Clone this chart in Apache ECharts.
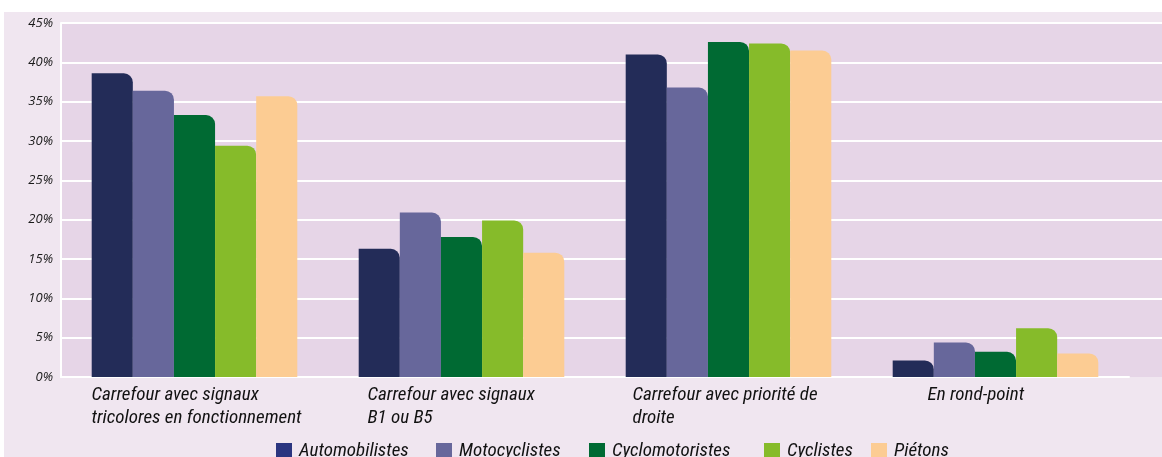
<!DOCTYPE html>
<html>
<head>
<meta charset="utf-8">
<script src="https://cdn.jsdelivr.net/npm/echarts@6/dist/echarts.min.js"></script>
<style>
html,body{margin:0;padding:0;background:#ffffff;}
#wrap{position:absolute;left:4px;top:12px;width:1158px;height:445px;background:#f0e6f0;}
#chart{position:absolute;left:0;top:0;width:1162px;height:457px;}
</style>
</head>
<body>
<div id="wrap"></div>
<div id="chart"></div>
<script>
const categories = [
  'Carrefour avec signaux\ntricolores en fonctionnement',
  'Carrefour avec signaux\nB1 ou B5',
  'Carrefour avec priorité de\ndroite',
  'En rond-point'
];
const seriesNames = ['Automobilistes', 'Motocyclistes', 'Cyclomotoristes', 'Cyclistes', 'Piétons'];
const automobilistes = [38.6, 16.3, 41.0, 2.1];
const motocyclistes = [36.4, 20.9, 36.8, 4.4];
const cyclomotoristes = [33.3, 17.8, 42.6, 3.2];
const cyclistes = [29.4, 19.9, 42.4, 6.2];
const pietons = [35.7, 15.8, 41.5, 3.0];
const yTicks = [0, 5, 10, 15, 20, 25, 30, 35, 40, 45];

const seriesValues = [automobilistes, motocyclistes, cyclomotoristes, cyclistes, pietons];
const colors = ['#232c58', '#67679b', '#006a33', '#86bb2a', '#fccc93'];
const legendIconColors = ['#2b3580', '#67679b', '#006a33', '#86bb2a', '#fccc93'];
const labelOffsets = [0, 9, 7, 35];
const legendLefts = [276, 436, 589, 764, 871];
const W = 240;
const condensed = '"Roboto Condensed", "Open Sans", sans-serif';

const rich = {};
labelOffsets.forEach((off, i) => {
  rich['c' + i] = {
    width: W, align: 'left',
    padding: [0, 0, 0, W - 206 + 2 * off],
    fontFamily: condensed,
    fontStyle: 'italic', fontSize: 19, lineHeight: 23, color: '#111111'
  };
});

const chart = echarts.init(document.getElementById('chart'), null, {renderer: 'canvas'});
chart.setOption({
  animation: false,
  backgroundColor: 'transparent',
  color: colors,
  grid: [
    {left: 61, right: 0, top: 23, bottom: 80, show: true, backgroundColor: '#e6d5e7', borderWidth: 0, outerBoundsMode: 'none', containLabel: false},
    {left: 61, right: 33, top: 23, bottom: 80, outerBoundsMode: 'none', containLabel: false}
  ],
  xAxis: [
    {type: 'category', gridIndex: 0, data: [], show: false},
    {
      type: 'category', gridIndex: 1, data: categories,
      axisLine: {show: true, lineStyle: {color: '#ffffff', width: 2}},
      axisTick: {show: false},
      axisLabel: {
        interval: 0,
        margin: 7,
        formatter: (v, i) => v.split('\n').map(l => '{c' + i + '|' + l + '}').join('\n'),
        rich: rich
      }
    }
  ],
  yAxis: [
    {
      type: 'value', gridIndex: 0, min: yTicks[0], max: yTicks[yTicks.length - 1], interval: 5,
      axisLine: {show: true, lineStyle: {color: '#ffffff', width: 2}},
      axisTick: {show: false},
      axisLabel: {
        formatter: '{value}%', margin: 8,
        fontFamily: '"Open Sans", sans-serif', fontStyle: 'italic', fontSize: 13, color: '#1a1a1a'
      },
      splitLine: {show: true, lineStyle: {color: ['rgba(0,0,0,0)', '#ffffff', '#ffffff', '#ffffff', '#ffffff', '#ffffff', '#ffffff', '#ffffff', '#ffffff', '#ffffff'], width: 2}}
    },
    {
      type: 'value', gridIndex: 1, min: yTicks[0], max: yTicks[yTicks.length - 1], interval: 5,
      show: false, splitLine: {show: false}
    }
  ],
  legend: seriesNames.map((name, i) => ({
    left: legendLefts[i], top: 441, padding: 0,
    itemWidth: 16, itemHeight: 16, itemGap: 0,
    icon: 'rect',
    data: [{name: name, itemStyle: {color: legendIconColors[i]}}],
    textStyle: {fontFamily: condensed, fontStyle: 'italic', fontSize: 19, lineHeight: 20, color: '#111111', padding: [0, 0, 0, 2]}
  })),
  series: seriesNames.map((name, i) => ({
    name: name,
    type: 'bar',
    xAxisIndex: 1,
    yAxisIndex: 1,
    data: seriesValues[i],
    barGap: '0%',
    barCategoryGap: '23%',
    itemStyle: {color: colors[i], borderRadius: [0, 9, 0, 0]}
  }))
});
</script>
</body>
</html>
